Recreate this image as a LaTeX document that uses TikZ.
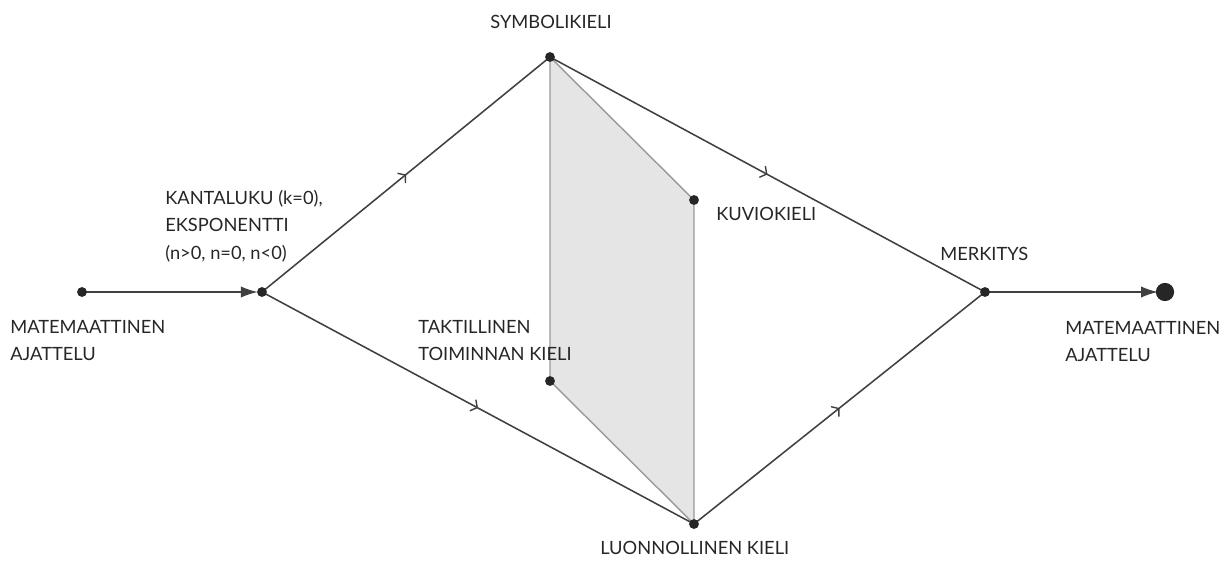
\documentclass[tikz,border=0pt]{standalone}
\usepackage{fontspec}
\setmainfont{Lato}
\usetikzlibrary{arrows.meta,decorations.markings}
\definecolor{linegray}{rgb}{0.25,0.25,0.25}
\definecolor{edgegray}{rgb}{0.6,0.6,0.6}
\definecolor{fillgray}{rgb}{0.9,0.9,0.9}
\tikzset{every node/.style={font=\fontsize{13}{19.5}\selectfont,inner sep=0pt,text=black!85}}
\tikzset{midarrow/.style={postaction={decorate,decoration={markings,mark=at position 0.5 with {\arrow{Straight Barb[length=3.5pt,width=9pt,line width=1pt]}}}}}}
\tikzset{dot/.style={fill=black!85}}
\begin{document}
\begin{tikzpicture}[line cap=round,line join=round,x=0.025cm,y=-0.025cm]
            \useasboundingbox (0,0) rectangle (1231,564);
            \coordinate (start) at (82,292);
            \coordinate (kanta) at (262,292);
            \coordinate (symb) at (550,57);
            \coordinate (kuvio) at (694,200);
            \coordinate (takt) at (550,381);
            \coordinate (luonn) at (694,524);
            \coordinate (merk) at (985,292);
            \coordinate (goal) at (1165,292);
            % shaded sheet between the languages
            \draw [fill=fillgray,draw=edgegray,line width=1pt] (symb) -- (kuvio) -- (luonn) -- (takt) -- cycle;
            \draw [line width=1.1pt,color=linegray,-{Latex[length=12pt,width=8pt]},shorten >=3pt] (start) -- (kanta);
            \draw [line width=1.1pt,color=linegray,-{Latex[length=12pt,width=8pt]},shorten >=5pt] (merk) -- (goal);
            \draw [line width=1.1pt,color=linegray,midarrow] (kanta) -- (symb);
            \draw [line width=1.1pt,color=linegray,midarrow] (symb) -- (merk);
            \draw [line width=1.1pt,color=linegray,midarrow] (kanta) -- (luonn);
            \draw [line width=1.1pt,color=linegray,midarrow] (luonn) -- (merk);
            \foreach \p in {start,kanta,symb,kuvio,takt,luonn,merk}
              \fill [dot] (\p) circle (3.5pt);
            \fill [dot] (goal) circle (6.5pt);
            \node [anchor=north west,align=left] (t1) at (10,320) {MATEMAATTINEN\\AJATTELU};
            \node [anchor=north west,align=left] (t2) at (165,190) {KANTALUKU (k=0),\\EKSPONENTTI\\(n>0, n=0, n<0)};
            \node [anchor=north] (t3) at (551,15) {SYMBOLIKIELI};
            \node [anchor=north west] (t4) at (716,207) {KUVIOKIELI};
            \node [anchor=north west] (t5) at (940,247) {MERKITYS};
            \node [anchor=north west,align=left] (t6) at (418,320) {TAKTILLINEN\\TOIMINNAN KIELI};
            \node [anchor=north west] (t7) at (600,541) {LUONNOLLINEN KIELI};
            \node [anchor=north west,align=left] (t8) at (1065,321) {MATEMAATTINEN\\AJATTELU};
\end{tikzpicture}
\end{document}
